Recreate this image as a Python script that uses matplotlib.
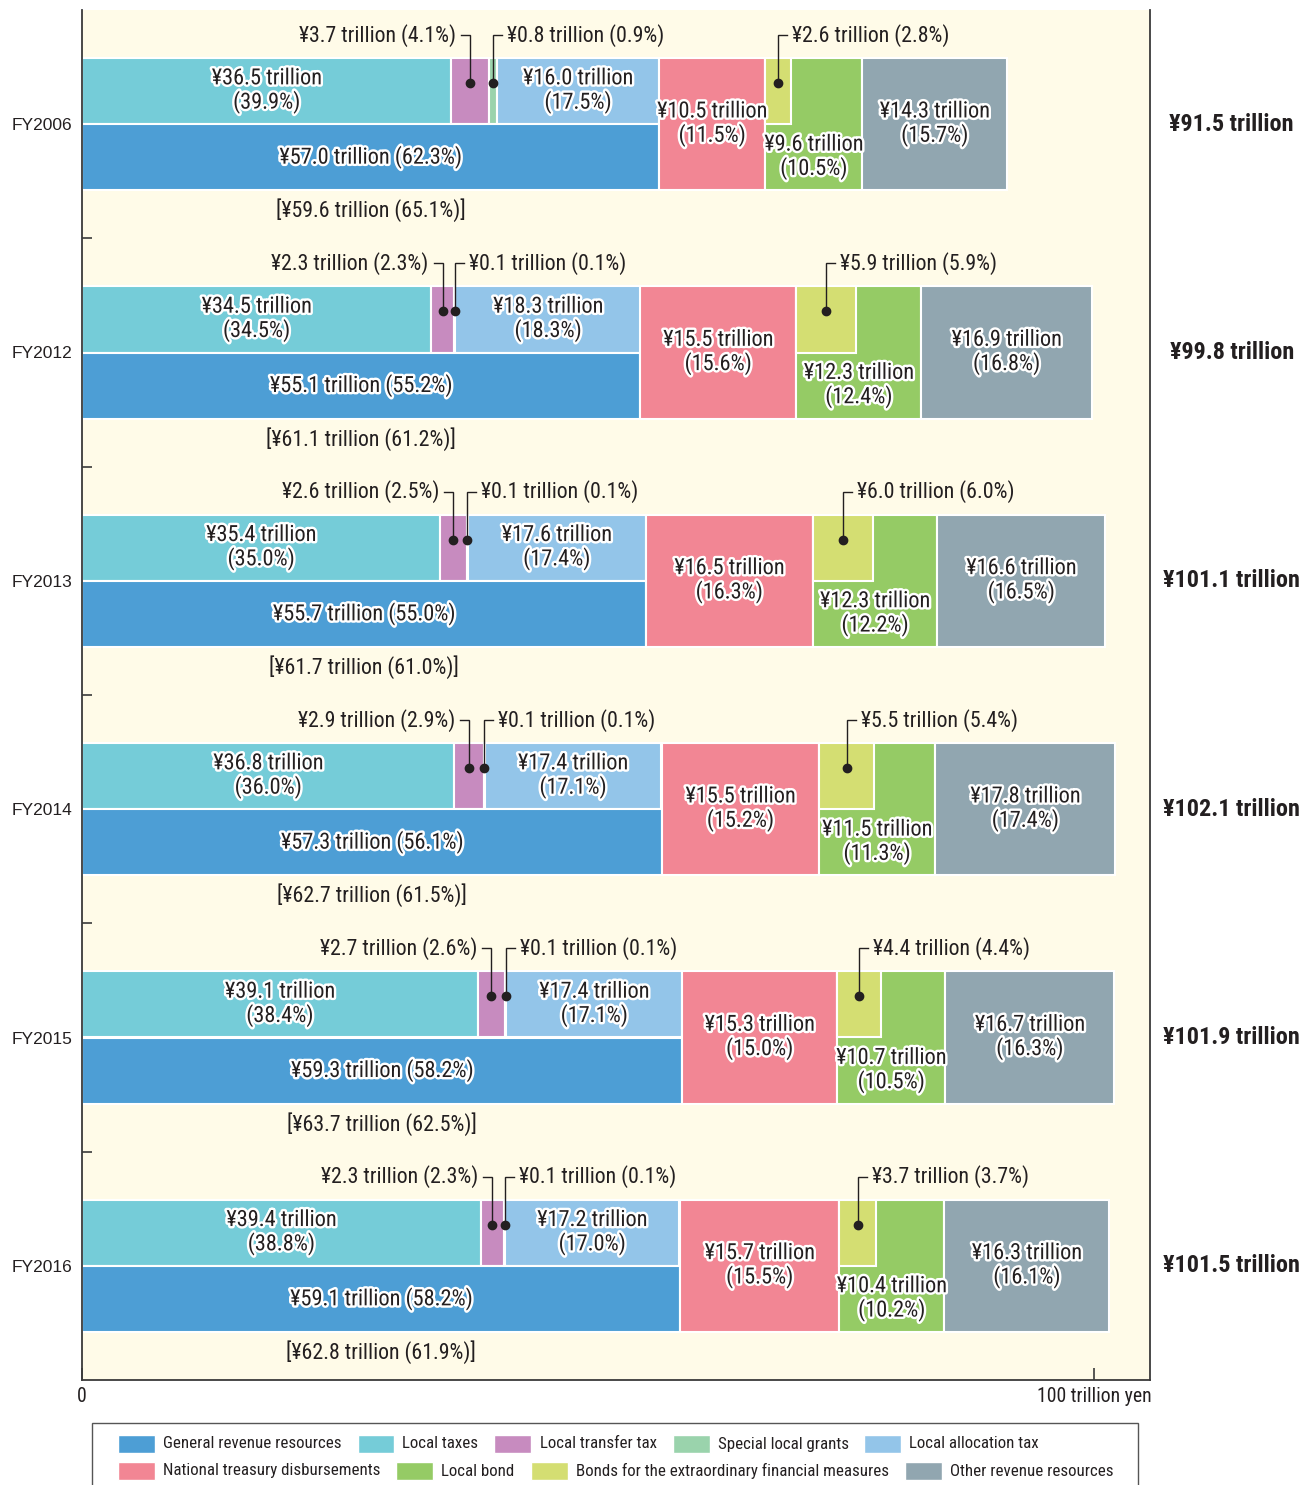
"""
Revenue breakdown of local governments, FY2006 and FY2012-FY2016
"""
import matplotlib
matplotlib.use('Agg')
import matplotlib.pyplot as plt
import matplotlib.patheffects as pe
from matplotlib.patches import Rectangle

# condensed faces first, whatever is installed gets used
plt.rcParams['font.family'] = ['Liberation Sans Narrow', 'DejaVu Sans Condensed',
                               'Roboto Condensed', 'Liberation Sans', 'DejaVu Sans']

# ---- data (trillion yen / percent) ----
years = ['FY2006', 'FY2012', 'FY2013', 'FY2014', 'FY2015', 'FY2016']
local_taxes = [36.5, 34.5, 35.4, 36.8, 39.1, 39.4]
local_taxes_pct = [39.9, 34.5, 35.0, 36.0, 38.4, 38.8]
transfer_tax = [3.7, 2.3, 2.6, 2.9, 2.7, 2.3]
transfer_tax_pct = [4.1, 2.3, 2.5, 2.9, 2.6, 2.3]
special_grants = [0.8, 0.1, 0.1, 0.1, 0.1, 0.1]
special_grants_pct = [0.9, 0.1, 0.1, 0.1, 0.1, 0.1]
allocation_tax = [16.0, 18.3, 17.6, 17.4, 17.4, 17.2]
allocation_tax_pct = [17.5, 18.3, 17.4, 17.1, 17.1, 17.0]
general_revenue = [57.0, 55.1, 55.7, 57.3, 59.3, 59.1]
general_revenue_pct = [62.3, 55.2, 55.0, 56.1, 58.2, 58.2]
general_plus_bonds = [59.6, 61.1, 61.7, 62.7, 63.7, 62.8]
general_plus_bonds_pct = [65.1, 61.2, 61.0, 61.5, 62.5, 61.9]
treasury = [10.5, 15.5, 16.5, 15.5, 15.3, 15.7]
treasury_pct = [11.5, 15.6, 16.3, 15.2, 15.0, 15.5]
extra_bonds = [2.6, 5.9, 6.0, 5.5, 4.4, 3.7]
extra_bonds_pct = [2.8, 5.9, 6.0, 5.4, 4.4, 3.7]
local_bond = [9.6, 12.3, 12.3, 11.5, 10.7, 10.4]
local_bond_pct = [10.5, 12.4, 12.2, 11.3, 10.5, 10.2]
other = [14.3, 16.9, 16.6, 17.8, 16.7, 16.3]
other_pct = [15.7, 16.8, 16.5, 17.4, 16.3, 16.1]
totals = [91.5, 99.8, 101.1, 102.1, 101.9, 101.5]

# ---- colours ----
C_GENERAL = '#4D9ED5'
C_TAXES = '#75CCD8'
C_TRANSFER = '#C78BBF'
C_GRANTS = '#9AD3AC'
C_ALLOC = '#93C5E9'
C_TREASURY = '#F28694'
C_BOND = '#95CB65'
C_EXTRA = '#D4DE72'
C_OTHER = '#91A6B0'
C_TEXT = '#231F20'
C_AXIS = '#3A3A3A'
C_BG = '#FFFBE8'

W, H = 1306, 1485
fig = plt.figure(figsize=(W / 100, H / 100), dpi=100)
renderer = fig.canvas.get_renderer()
YEAR_FAMILY = ['Liberation Sans', 'DejaVu Sans']


def fit_size(sample, target_px, **kw):
    # font size that makes `sample` about target_px wide in the font found
    t = fig.text(0, 0, sample, fontsize=10, **kw)
    w = t.get_window_extent(renderer).width
    t.remove()
    return 10 * target_px / w


FS_LABEL = fit_size('¥3.7 trillion (4.1%)', 157)
FS_TOTAL = fit_size('¥91.5 trillion', 125, fontweight='bold')
FS_LEGEND = fit_size('General revenue resources', 176)
FS_AXIS = fit_size('100 trillion yen', 114)
FS_YEAR = fit_size('FY2006', 61, family=YEAR_FAMILY)

ax = fig.add_axes([82 / W, 1 - 1380 / H, 1068 / W, 1370 / H])
ax.set_facecolor(C_BG)

row_h = 0.29          # height of one row (upper / lower)
full_h = 2 * row_h
outline = [pe.withStroke(linewidth=3.5, foreground='white')]
bar_kw = dict(edgecolor='white', linewidth=1.5)


def fmt(v, p):
    return f'¥{v:.1f} trillion ({p:.1f}%)'


def inner(x, y, s):
    ax.text(x, y, s, ha='center', va='center', fontsize=FS_LABEL * 1.02, color=C_TEXT,
            path_effects=outline, linespacing=1.08)


for i in range(len(years)):
    c = i
    y_up = c - row_h / 2
    y_lo = c + row_h / 2

    # upper row: components of general revenue resources
    left = 0
    for val, col in [(local_taxes[i], C_TAXES), (transfer_tax[i], C_TRANSFER),
                     (special_grants[i], C_GRANTS), (allocation_tax[i], C_ALLOC)]:
        ax.barh(y_up, val, left=left, height=row_h, color=col, **bar_kw)
        left += val

    # lower row: general revenue resources
    ax.barh(y_lo, general_revenue[i], height=row_h, color=C_GENERAL, **bar_kw)

    # full height segments
    x_tr = general_revenue[i]
    ax.barh(c, treasury[i], left=x_tr, height=full_h, color=C_TREASURY, **bar_kw)
    x_bd = x_tr + treasury[i]
    ax.barh(c, local_bond[i], left=x_bd, height=full_h, color=C_BOND, **bar_kw)
    ax.barh(y_up, extra_bonds[i], left=x_bd, height=row_h, color=C_EXTRA, **bar_kw)
    x_ot = x_bd + local_bond[i]
    ax.barh(c, other[i], left=x_ot, height=full_h, color=C_OTHER, **bar_kw)

    # labels inside bars
    inner(local_taxes[i] / 2, y_up,
          f'¥{local_taxes[i]:.1f} trillion\n({local_taxes_pct[i]:.1f}%)')
    x_al = local_taxes[i] + transfer_tax[i] + special_grants[i]
    inner(x_al + allocation_tax[i] / 2, y_up,
          f'¥{allocation_tax[i]:.1f} trillion\n({allocation_tax_pct[i]:.1f}%)')
    inner(general_revenue[i] / 2, y_lo, fmt(general_revenue[i], general_revenue_pct[i]))
    inner(x_tr + treasury[i] / 2, c,
          f'¥{treasury[i]:.1f} trillion\n({treasury_pct[i]:.1f}%)')
    inner(x_bd + local_bond[i] / 2, y_lo,
          f'¥{local_bond[i]:.1f} trillion\n({local_bond_pct[i]:.1f}%)')
    inner(x_ot + other[i] / 2, c,
          f'¥{other[i]:.1f} trillion\n({other_pct[i]:.1f}%)')

    # bracket label below
    ax.text(general_revenue[i] / 2, c + 0.378,
            f'[{fmt(general_plus_bonds[i], general_plus_bonds_pct[i])}]',
            ha='center', va='center', fontsize=FS_LABEL, color=C_TEXT)

    # leader labels above
    y_txt = c - 0.39
    y_dot = y_up - 0.035
    leaders = [
        (local_taxes[i] + transfer_tax[i] / 2, fmt(transfer_tax[i], transfer_tax_pct[i]), -1),
        (local_taxes[i] + transfer_tax[i] + special_grants[i] / 2,
         fmt(special_grants[i], special_grants_pct[i]), 1),
        (x_bd + extra_bonds[i] / 2, fmt(extra_bonds[i], extra_bonds_pct[i]), 1),
    ]
    for xd, s, side in leaders:
        ax.plot([xd, xd, xd + side * 0.9], [y_dot, y_txt, y_txt],
                color=C_TEXT, lw=1.0, solid_joinstyle='miter')
        ax.plot(xd, y_dot, 'o', color=C_TEXT, ms=6)
        ax.text(xd + side * 1.4, y_txt, s, ha='right' if side < 0 else 'left',
                va='center', fontsize=FS_LABEL, color=C_TEXT)

    # total on the right
    ax.text(113.6, c, f'¥{totals[i]:.1f} trillion', ha='center', va='center',
            fontsize=FS_TOTAL, fontweight='bold', color=C_TEXT, clip_on=False)

# ---- axes styling ----
ax.set_xlim(0, 1068 / 10.12)
ax.set_ylim(len(years) - 0.5, -0.5)
for s in ['left', 'right', 'bottom']:
    ax.spines[s].set_color(C_AXIS)
    ax.spines[s].set_linewidth(1.3)
ax.spines['top'].set_visible(False)

ax.set_yticks([i + 0.5 for i in range(len(years) - 1)])
ax.set_yticklabels([])
ax.set_yticks(range(len(years)), minor=True)
ax.set_yticklabels(years, minor=True, fontsize=FS_YEAR, family=YEAR_FAMILY, color=C_TEXT)
ax.tick_params(axis='y', which='major', direction='in', length=7, width=1.2, color=C_AXIS)
ax.tick_params(axis='y', which='minor', length=0, pad=7)

ax.set_xticks([0, 100])
ax.set_xticklabels(['0', '100 trillion yen'], fontsize=FS_AXIS, color=C_TEXT)
ax.tick_params(axis='x', direction='in', length=9, width=1.2, color=C_AXIS, pad=5)

# ---- legend (flowing rows inside a box) ----
fig.add_artist(Rectangle((92 / W, -0.01), (1138 - 92) / W, (H - 1423) / H + 0.01,
                         transform=fig.transFigure, fill=False, edgecolor='#555555',
                         lw=1.0, clip_on=False))
legend_rows = [
    [('General revenue resources', C_GENERAL), ('Local taxes', C_TAXES),
     ('Local transfer tax', C_TRANSFER), ('Special local grants', C_GRANTS),
     ('Local allocation tax', C_ALLOC)],
    [('National treasury disbursements', C_TREASURY), ('Local bond', C_BOND),
     ('Bonds for the extraordinary financial measures', C_EXTRA),
     ('Other revenue resources', C_OTHER)],
]
for row, yc in zip(legend_rows, [1444, 1471]):
    x = 118
    for label, col in row:
        fig.add_artist(Rectangle((x / W, 1 - (yc + 9) / H), 37 / W, 18 / H,
                                 transform=fig.transFigure, facecolor=col,
                                 edgecolor='white', lw=1))
        t = fig.text((x + 45) / W, 1 - yc / H, label, ha='left', va='center',
                     fontsize=FS_LEGEND, color=C_TEXT)
        w = t.get_window_extent(renderer).width
        x += 45 + w + 16

fig.savefig('out.png', dpi=100)
